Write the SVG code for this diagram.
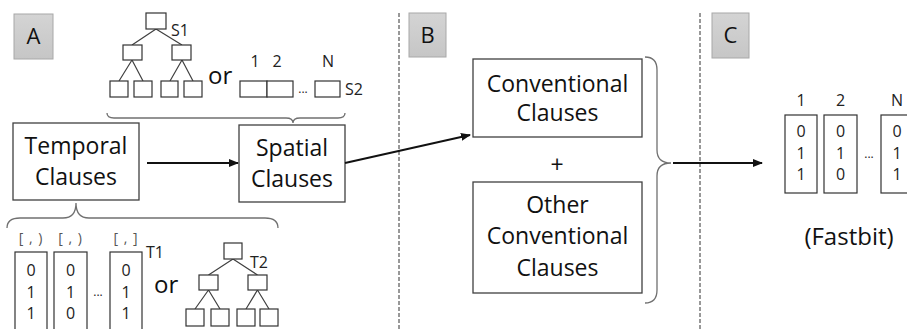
<svg xmlns="http://www.w3.org/2000/svg" width="907" height="329" viewBox="0 0 907 329">
<defs>
<linearGradient id="lg" x1="0" y1="0" x2="0" y2="1">
<stop offset="0" stop-color="#d4d4d4"/><stop offset="1" stop-color="#c6c6c6"/>
</linearGradient>
<marker id="ah" markerWidth="10" markerHeight="8" refX="9" refY="4" orient="auto" markerUnits="userSpaceOnUse">
<path d="M0,0 L10,4 L0,8 Z" fill="#111"/>
</marker>
<style>
.box{fill:#fff;stroke:#404040;stroke-width:1.3}
.lbl{fill:url(#lg);stroke:#a8a8a8;stroke-width:1}
.big{font-family:"Open Sans","Liberation Sans",sans-serif;font-size:23px;fill:#111;text-anchor:middle}
.lab{font-family:"Open Sans","Liberation Sans",sans-serif;font-size:22px;fill:#111;text-anchor:middle}
.sm{font-family:"Open Sans","Liberation Sans",sans-serif;font-size:16px;fill:#222;text-anchor:middle}
.smL{font-family:"Open Sans","Liberation Sans",sans-serif;font-size:16px;fill:#222}
.or{font-family:"Open Sans","Liberation Sans",sans-serif;font-size:24px;fill:#111}
.iv{font-family:"Open Sans","Liberation Sans",sans-serif;font-size:14px;fill:#555;text-anchor:middle;letter-spacing:1px}
.ln{stroke:#404040;stroke-width:1.2;fill:none}
.br{stroke:#707070;stroke-width:1.3;fill:none}
.dash{stroke:#333;stroke-width:1;stroke-dasharray:4 2}
.sq{fill:#fff;stroke:#333;stroke-width:1.2}
.arr{stroke:#111;stroke-width:2;fill:none}
</style>
</defs>
<rect width="907" height="329" fill="#fff"/>
<line class="dash" x1="399" y1="13" x2="399" y2="329"/>
<line class="dash" x1="700" y1="13" x2="700" y2="329"/>

<g id="labelA"><rect class="lbl" x="14" y="14" width="39" height="45"/><text class="lab" x="33.5" y="44">A</text></g>
<g id="labelB"><rect class="lbl" x="409" y="13" width="37" height="44"/><text class="lab" x="427.5" y="43">B</text></g>
<g id="labelC"><rect class="lbl" x="712" y="13" width="37" height="45"/><text class="lab" x="730.5" y="43">C</text></g>

<g id="s1-tree">
<path class="ln" d="M156,29 L132,45 M156,29 L182,45 M132,60 L119,81 M132,60 L143,81 M182,60 L170,81 M182,60 L193,81"/>
<rect class="sq" x="146" y="13" width="20" height="16"/>
<rect class="sq" x="123" y="45" width="19" height="15"/>
<rect class="sq" x="172" y="45" width="19" height="15"/>
<rect class="sq" x="110" y="81" width="18" height="16"/>
<rect class="sq" x="134" y="81" width="18" height="16"/>
<rect class="sq" x="161" y="81" width="17" height="16"/>
<rect class="sq" x="184" y="81" width="18" height="16"/>
<text class="smL" x="171" y="36">S1</text>
</g>
<text class="or" x="208" y="84">or</text>
<g id="s2-array">
<rect class="sq" x="240" y="81" width="27" height="16"/>
<rect class="sq" x="267" y="81" width="26" height="16"/>
<rect class="sq" x="315" y="81" width="25" height="16"/>
<text class="sm" x="303" y="93" style="font-size:12px">...</text>
<text class="sm" x="255" y="67">1</text>
<text class="sm" x="277" y="67">2</text>
<text class="sm" x="328" y="67">N</text>
<text class="smL" x="345" y="95">S2</text>
</g>
<path class="br" d="M107,113 Q107,118 114,118 L286,118 Q293,118 293,123 Q293,118 300,118 L338,118 Q345,118 345,113"/>

<g id="temporal"><rect class="box" x="13" y="123" width="126" height="77"/>
<text class="big" x="76" y="154">Temporal</text><text class="big" x="76" y="185">Clauses</text></g>
<g id="spatial"><rect class="box" x="239" y="125" width="106" height="77"/>
<text class="big" x="292" y="156">Spatial</text><text class="big" x="292" y="187">Clauses</text></g>

<path class="br" d="M7,228 Q7,218 20,218 L63,218 Q76,218 76,203 Q76,218 89,218 L265,218 Q278,218 278,228"/>

<g id="t1-vectors">
<text class="iv" x="31" y="243">[ , )</text>
<text class="iv" x="70.5" y="243">[ , )</text>
<text class="iv" x="126" y="243">[ , ]</text>
<rect class="sq" x="15" y="252" width="32" height="90"/>
<rect class="sq" x="54" y="252" width="33" height="90"/>
<rect class="sq" x="110" y="252" width="32" height="90"/>
<text class="sm" x="31" y="276">0</text><text class="sm" x="31" y="298">1</text><text class="sm" x="31" y="319">1</text>
<text class="sm" x="70.5" y="276">0</text><text class="sm" x="70.5" y="298">1</text><text class="sm" x="70.5" y="319">0</text>
<text class="sm" x="126" y="276">0</text><text class="sm" x="126" y="298">1</text><text class="sm" x="126" y="319">1</text>
<text class="sm" x="98" y="296" style="font-size:12px">...</text>
<text class="smL" x="146" y="258">T1</text>
</g>
<text class="or" x="154" y="293">or</text>
<g id="t2-tree">
<path class="ln" d="M233,259 L208.5,275 M233,259 L257.5,275 M208.5,290 L195,309 M208.5,290 L220,309 M257.5,290 L246,309 M257.5,290 L269,309"/>
<rect class="sq" x="224" y="243" width="18" height="16"/>
<rect class="sq" x="199" y="275" width="19" height="15"/>
<rect class="sq" x="248" y="275" width="19" height="15"/>
<rect class="sq" x="186" y="309" width="18" height="17"/>
<rect class="sq" x="211" y="309" width="18" height="17"/>
<rect class="sq" x="237" y="309" width="18" height="17"/>
<rect class="sq" x="260" y="309" width="18" height="17"/>
<text class="smL" x="250" y="268">T2</text>
</g>

<g id="conventional"><rect class="box" x="473" y="59" width="169" height="78"/>
<text class="big" x="557.5" y="92">Conventional</text><text class="big" x="557.5" y="121">Clauses</text></g>
<text class="big" x="557" y="173">+</text>
<g id="other"><rect class="box" x="473" y="182" width="169" height="111"/>
<text class="big" x="557.5" y="213">Other</text><text class="big" x="557.5" y="244">Conventional</text><text class="big" x="557.5" y="276">Clauses</text></g>
<path class="br" d="M645,57 Q657,57 657,70 L657,150 Q657,163 671,163 Q657,163 657,176 L657,290 Q657,303 645,303"/>

<g id="fastbit">
<text class="sm" x="801" y="106">1</text><text class="sm" x="840.5" y="106">2</text><text class="sm" x="897" y="106">N</text>
<rect class="sq" x="785" y="115" width="32" height="78"/>
<rect class="sq" x="824" y="115" width="33" height="78"/>
<rect class="sq" x="881" y="115" width="32" height="78"/>
<text class="sm" x="801" y="137">0</text><text class="sm" x="801" y="159">1</text><text class="sm" x="801" y="180">1</text>
<text class="sm" x="840.5" y="137">0</text><text class="sm" x="840.5" y="159">1</text><text class="sm" x="840.5" y="180">0</text>
<text class="sm" x="897" y="137">0</text><text class="sm" x="897" y="159">1</text><text class="sm" x="897" y="180">1</text>
<text class="sm" x="869" y="158" style="font-size:12px">...</text>
<text class="big" x="849" y="245" style="font-size:24px">(Fastbit)</text>
</g>

<g id="connectors">
<line class="arr" x1="147" y1="163" x2="238" y2="163" marker-end="url(#ah)"/>
<line class="arr" x1="345" y1="163" x2="470" y2="135" marker-end="url(#ah)"/>
<line class="arr" x1="673" y1="163" x2="762" y2="163" marker-end="url(#ah)"/>
</g>
</svg>
